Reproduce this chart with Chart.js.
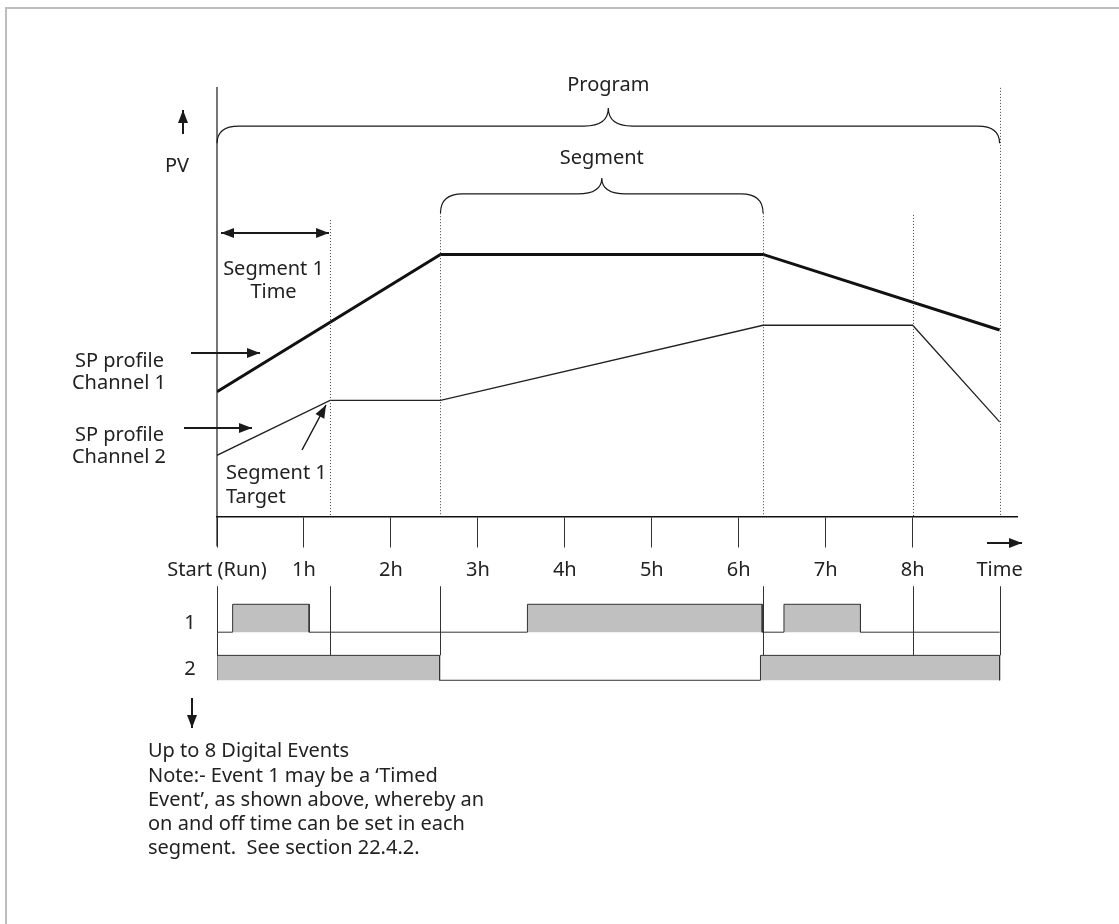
<!DOCTYPE html>
<html>
<head>
<meta charset="utf-8">
<script src="https://cdn.jsdelivr.net/npm/chart.js@4.4.1/dist/chart.umd.min.js"></script>
<style>
  html, body { margin: 0; padding: 0; background: #fff; }
  #wrap { position: relative; width: 1119px; height: 924px; overflow: hidden; }
  #frame { position: absolute; left: 5px; top: 7px; right: -10px; bottom: -10px;
           border-top: 2px solid #bdbdbd; border-left: 2px solid #bdbdbd; }
  canvas { position: absolute; left: 0; top: 0; }
</style>
</head>
<body>
<div id="wrap">
  <div id="frame"></div>
  <canvas id="chart" width="1119" height="924"></canvas>
</div>
<script>
// time axis (hours)
const hours = [0, 1, 2, 3, 4, 5, 6, 7, 8, 9];
const hourLabels = ['Start (Run)', '1h', '2h', '3h', '4h', '5h', '6h', '7h', '8h', 'Time'];

// segment boundaries (h)
const segmentEnds = [0, 1.3, 2.57, 6.28, 8, 9];

// setpoint profiles
const ch1Times = [0, 2.57, 6.28, 9];
const ch1Values = [29, 61, 61, 43.4];
const ch2Times = [0, 1.3, 2.57, 6.28, 8, 9];
const ch2Values = [14.2, 27, 27, 44.5, 44.5, 22];

// digital events: on intervals (h)
const event1On = [[0.18, 1.06], [3.57, 6.27], [6.52, 7.4]];
const event2On = [[0, 2.56], [6.25, 9]];

const FONT = '"Noto Sans", sans-serif';
const FSIZE = 20;
const INK = '#1a1a1a';

// event rows sit below the time axis (y values)
const ROW1 = { base: -27, high: -20.5 };
const ROW2 = { base: -38.2, high: -32.4 };

function eventPoints(intervals, row) {
  const pts = [{ x: 0, y: row.base }];
  intervals.forEach(([a, b]) => {
    pts.push({ x: a, y: row.base }, { x: a, y: row.high }, { x: b, y: row.high }, { x: b, y: row.base });
  });
  pts.push({ x: 9, y: row.base });
  return pts;
}

function arrow(ctx, x1, y1, x2, y2, both) {
  const head = (xa, ya, xb, yb) => {
    const ang = Math.atan2(yb - ya, xb - xa);
    const len = 13, w = 5;
    ctx.beginPath();
    ctx.moveTo(xb, yb);
    ctx.lineTo(xb - len * Math.cos(ang) + w * Math.sin(ang), yb - len * Math.sin(ang) - w * Math.cos(ang));
    ctx.lineTo(xb - len * Math.cos(ang) - w * Math.sin(ang), yb - len * Math.sin(ang) + w * Math.cos(ang));
    ctx.closePath();
    ctx.fill();
  };
  ctx.beginPath();
  ctx.moveTo(x1, y1);
  ctx.lineTo(x2, y2);
  ctx.stroke();
  head(x1, y1, x2, y2);
  if (both) head(x2, y2, x1, y1);
}

function brace(ctx, xa, xb, yLine, yEnd, yTip) {
  const xm = (xa + xb) / 2, r = 22, rm = 24;
  ctx.beginPath();
  ctx.moveTo(xa, yEnd);
  ctx.quadraticCurveTo(xa, yLine, xa + r, yLine);
  ctx.lineTo(xm - rm, yLine);
  ctx.quadraticCurveTo(xm, yLine, xm, yTip);
  ctx.quadraticCurveTo(xm, yLine, xm + rm, yLine);
  ctx.lineTo(xb - r, yLine);
  ctx.quadraticCurveTo(xb, yLine, xb, yEnd);
  ctx.stroke();
}

const decorations = {
  id: 'decorations',
  afterDatasetsDraw(chart) {
    const ctx = chart.ctx;
    const x = chart.scales.x, y = chart.scales.y;
    const px = v => x.getPixelForValue(v), py = v => y.getPixelForValue(v);
    const area = chart.chartArea;
    ctx.save();
    ctx.strokeStyle = INK;
    ctx.fillStyle = INK;

    // PV axis
    ctx.lineWidth = 1.2;
    ctx.beginPath();
    ctx.moveTo(px(0), area.top);
    ctx.lineTo(px(0), py(0) + 30);
    ctx.stroke();

    // dotted segment boundaries
    const dottedTops = [69, 70.6, 70.6, 70.2, 99.8];
    ctx.lineWidth = 1;
    ctx.strokeStyle = '#444';
    ctx.setLineDash([1, 2]);
    segmentEnds.slice(1).forEach((t, i) => {
      ctx.beginPath();
      ctx.moveTo(Math.round(px(t)) + 0.5, py(dottedTops[i]));
      ctx.lineTo(Math.round(px(t)) + 0.5, py(0));
      ctx.stroke();
    });
    ctx.setLineDash([]);

    // segment boundaries through the event rows
    ctx.strokeStyle = '#333';
    segmentEnds.forEach(t => {
      ctx.beginPath();
      ctx.moveTo(Math.round(px(t)) + 0.5, py(-16.3));
      ctx.lineTo(Math.round(px(t)) + 0.5, py(ROW2.high));
      ctx.stroke();
    });

    // braces
    ctx.strokeStyle = INK;
    ctx.lineWidth = 1.2;
    brace(ctx, px(0), px(9), py(90.9), py(86.9), py(95.1));
    brace(ctx, px(2.57), px(6.28), py(75.1), py(70.6), py(78.8));

    // arrows
    ctx.lineWidth = 2;
    arrow(ctx, 183, 134, 183, 110);                         // PV up
    arrow(ctx, px(0) + 4, 233, px(1.3) - 1, 233, true);     // segment 1 time
    arrow(ctx, 191, 353, 260, 353);                         // SP ch1
    arrow(ctx, 184, 428, 252, 428);                         // SP ch2
    ctx.lineWidth = 1.5;
    arrow(ctx, 302, 450, 326, 405);                         // segment 1 target
    ctx.lineWidth = 2;
    arrow(ctx, 987, 543, 1022, 543);                        // time
    arrow(ctx, 192, 698, 192, 728);                         // events down

    // texts
    ctx.font = FSIZE + 'px ' + FONT;
    ctx.fillStyle = '#222';
    ctx.textBaseline = 'middle';
    ctx.textAlign = 'center';
    ctx.fillText('Program', px(4.5), 85);
    ctx.fillText('Segment', (px(2.57) + px(6.28)) / 2, 158);
    ctx.fillText('PV', 177, 166);
    ctx.fillText('Segment 1', px(0.65), 269);
    ctx.fillText('Time', px(0.65), 292);
    ctx.fillText('1', 190, 623);
    ctx.fillText('2', 190, 669);
    ctx.textAlign = 'right';
    ctx.fillText('SP profile', 164, 361);
    ctx.fillText('Channel 1', 166, 383);
    ctx.fillText('SP profile', 164, 435);
    ctx.fillText('Channel 2', 166, 457);
    ctx.textAlign = 'left';
    ctx.fillText('Segment 1', 226, 473);
    ctx.fillText('Target', 226, 497);
    const notes = [
      'Up to 8 Digital Events',
      'Note:- Event 1 may be a \u2018Timed',
      'Event\u2019, as shown above, whereby an',
      'on and off time can be set in each',
      'segment.  See section 22.4.2.'
    ];
    const noteY = [751, 776, 800, 824, 848];
    notes.forEach((s, i) => ctx.fillText(s, 148, noteY[i]));
    ctx.restore();
  }
};

const ctx = document.getElementById('chart').getContext('2d');
const chart = new Chart(ctx, {
  type: 'line',
  data: {
    datasets: [
      {
        label: 'SP profile Channel 1',
        data: ch1Times.map((t, i) => ({ x: t, y: ch1Values[i] })),
        borderColor: '#111', borderWidth: 3, pointRadius: 0, fill: false
      },
      {
        label: 'SP profile Channel 2',
        data: ch2Times.map((t, i) => ({ x: t, y: ch2Values[i] })),
        borderColor: '#222', borderWidth: 1.3, pointRadius: 0, fill: false
      },
      {
        label: 'Event 1',
        data: eventPoints(event1On, ROW1),
        borderColor: '#333', borderWidth: 1, pointRadius: 0,
        backgroundColor: '#c0c0c0', fill: { value: ROW1.base }
      },
      {
        label: 'Event 2',
        data: eventPoints(event2On, ROW2),
        borderColor: '#333', borderWidth: 1, pointRadius: 0,
        backgroundColor: '#c0c0c0', fill: { value: ROW2.base }
      }
    ]
  },
  options: {
    responsive: false,
    animation: false,
    layout: { padding: { left: 217, right: 102, top: 87, bottom: 236 } },
    plugins: { legend: { display: false }, tooltip: { enabled: false } },
    elements: { line: { tension: 0 } },
    scales: {
      x: {
        type: 'linear', min: 0, max: 9.2,
        position: { y: 0 },
        afterBuildTicks: s => { s.ticks = hours.map(v => ({ value: v })); },
        ticks: {
          callback: (v, i) => hourLabels[i],
          font: { family: FONT, size: FSIZE }, color: '#222',
          padding: 12, maxRotation: 0, autoSkip: false
        },
        grid: {
          drawOnChartArea: false, tickLength: 30, lineWidth: 1,
          color: c => (c.index === 9 ? 'rgba(0,0,0,0)' : '#333')
        },
        border: { display: true, color: '#111', width: 1.5 }
      },
      y: { type: 'linear', min: -40, max: 100, display: false }
    }
  },
  plugins: [decorations]
});
</script>
</body>
</html>
